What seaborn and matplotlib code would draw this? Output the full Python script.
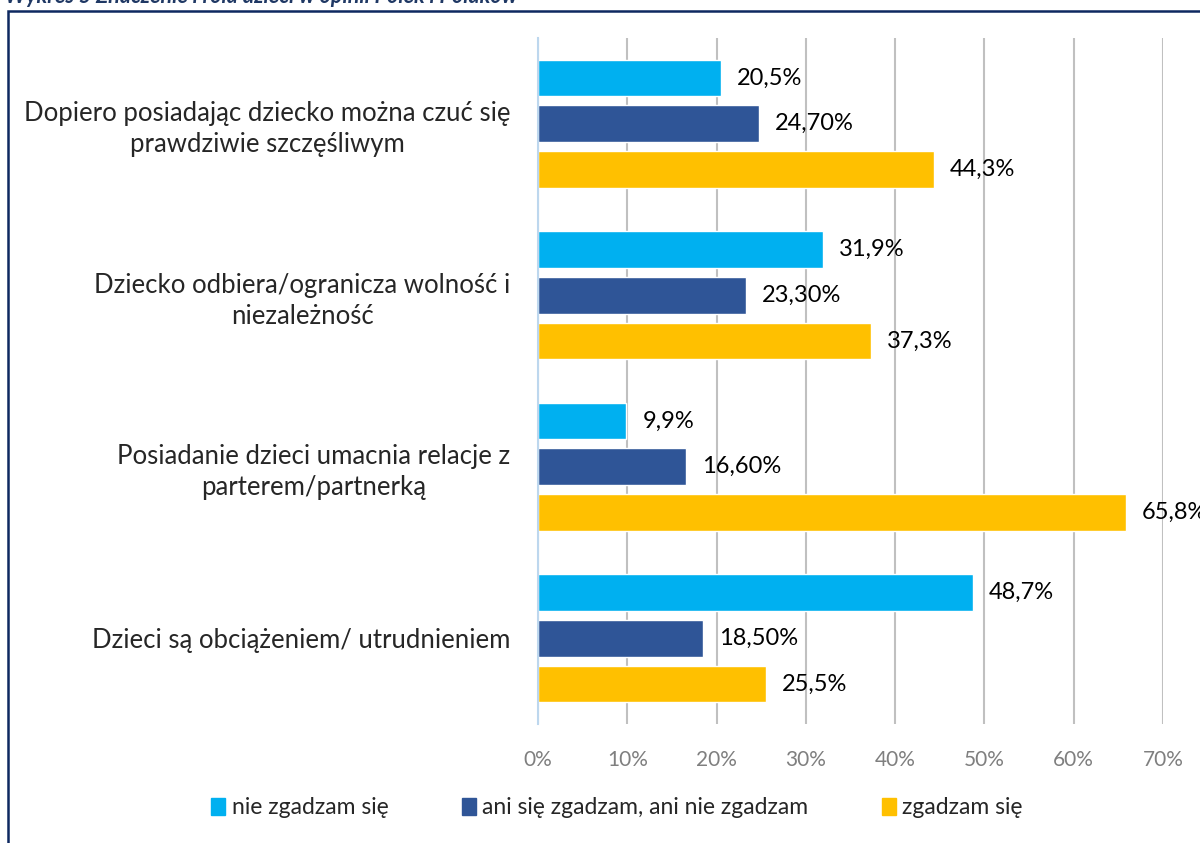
import matplotlib
matplotlib.use('Agg')
import matplotlib.pyplot as plt
import matplotlib.patches as mpatches
import pandas as pd
import seaborn as sns

# Data
categories = [
    'Dopiero posiadając dziecko można czuć się\nprawdziwie szczęśliwym',
    'Dziecko odbiera/ogranicza wolność i\nniezależność',
    'Posiadanie dzieci umacnia relacje z\nparterem/partnerką',
    'Dzieci są obciążeniem/ utrudnieniem',
]
series = ['nie zgadzam się', 'ani się zgadzam, ani nie zgadzam', 'zgadzam się']
nie_zgadzam = [20.5, 31.9, 9.9, 48.7]
ani_ani = [24.7, 23.3, 16.6, 18.5]
zgadzam = [44.3, 37.3, 65.8, 25.5]
labels_nie = ['20,5%', '31,9%', '9,9%', '48,7%']
labels_ani = ['24,70%', '23,30%', '16,60%', '18,50%']
labels_zg = ['44,3%', '37,3%', '65,8%', '25,5%']
xticks = [0, 10, 20, 30, 40, 50, 60, 70]
colors = ['#00b0f0', '#2f5597', '#ffc000']

rows = []
for s, vals in zip(series, [nie_zgadzam, ani_ani, zgadzam]):
    for c, v in zip(categories, vals):
        rows.append({'category': c, 'series': s, 'value': v})
df = pd.DataFrame(rows)

sns.set_style('white')
plt.rcParams['font.family'] = ['Lato', 'DejaVu Sans']

fig = plt.figure(figsize=(12, 8.43), dpi=100)
ax = fig.add_axes([538 / 1200, 1 - 724 / 843, 625 / 1200, (724 - 38) / 843])

sns.barplot(data=df, x='value', y='category', hue='series', orient='h',
            palette=colors, width=0.8, gap=0.2, ax=ax, legend=False,
            saturation=1)

for cont, labs in zip(ax.containers, [labels_nie, labels_ani, labels_zg]):
    ax.bar_label(cont, labels=labs, padding=11.5, fontsize=17, color='black')

ax.set_xlim(0, 70)
ax.set_xticks(xticks)
ax.set_xticklabels([f'{t}%' for t in xticks], color='#7f7f7f', fontsize=15)
ax.tick_params(axis='x', length=0, pad=19)
ax.tick_params(axis='y', length=0, pad=20, labelsize=18.5)
for lab in ax.get_yticklabels():
    lab.set_multialignment('center')
    lab.set_linespacing(1.3)
ax.set_xlabel('')
ax.set_ylabel('')
ax.xaxis.grid(True, color='#c0c0c0', linewidth=1.5)
ax.set_axisbelow(True)
for side in ['top', 'right', 'bottom']:
    ax.spines[side].set_visible(False)
ax.spines['left'].set_color('#bdd7ee')
ax.spines['left'].set_linewidth(1.5)
ax.spines['left'].set_zorder(3)

handles = [mpatches.Patch(color=c, label=s) for c, s in zip(colors, series)]
fig.legend(handles=handles, loc='center', ncol=3, frameon=False,
           bbox_to_anchor=(617 / 1200, 1 - 808 / 843), fontsize=16.5,
           handlelength=0.6, handleheight=0.8, handletextpad=0.3,
           columnspacing=3.2)

# outer frame and caption (partly cut off at the top)
frame = mpatches.Rectangle((7.5 / 1200, -0.1), 1.2, 1 - 10.5 / 843 + 0.1,
                           transform=fig.transFigure, fill=False,
                           edgecolor='#0d2860', linewidth=1.8, clip_on=False)
fig.add_artist(frame)
fig.text(5 / 1200, 1 - 3 / 843, 'Wykres 5 Znaczenie i rola dzieci w opinii Polek i Polaków',
         fontsize=15.5, style='italic', fontweight='bold', color='#1f3864',
         va='baseline', ha='left')

fig.savefig('out.png', dpi=100)
